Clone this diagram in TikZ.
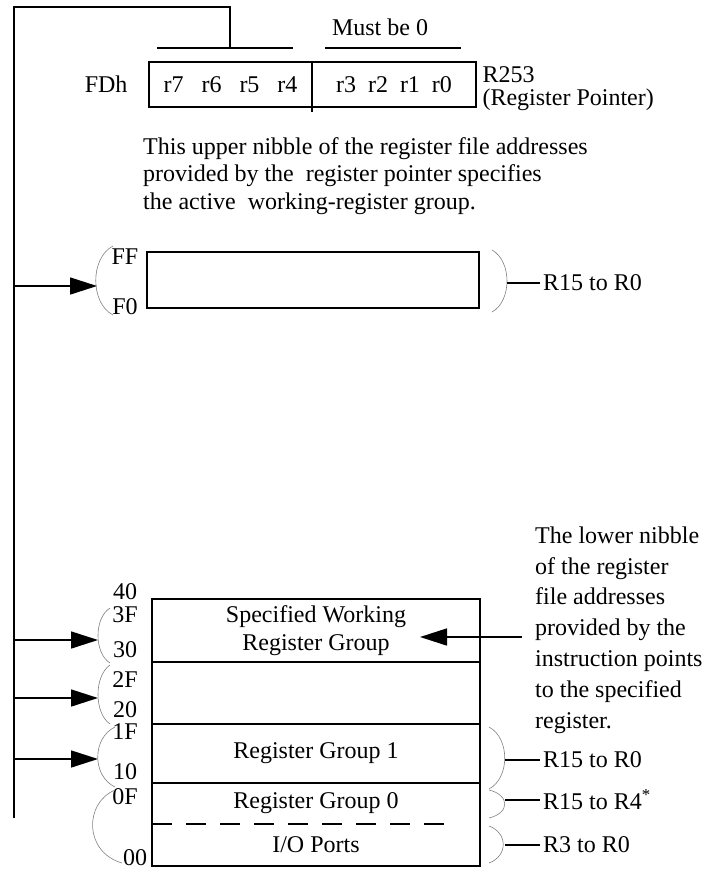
\documentclass[tikz,border=0pt]{standalone}
\usepackage{fontspec}
\setmainfont{Liberation Serif}
\usetikzlibrary{arrows.meta}
\usetikzlibrary{positioning}
\tikzset{memrow/.style = {line width=1.6pt, inner sep=0, outer sep=0, minimum width=328pt, align=center}}
\tikzset{regbox/.style = {memrow, draw}}
\tikzset{wire/.style = {line width=1.6pt}}
\tikzset{paren/.style = {gray, line width=0.6pt}}
\tikzset{ptr/.style = {-{Triangle[length=27pt,width=17pt]}, line width=1.6pt}}
\tikzset{addr/.style = {inner sep=0}}
\tikzset{tag/.style = {anchor=west, inner sep=3pt}}

\begin{document}
\begin{tikzpicture}[x=1pt, y=-1pt, font=\fontsize{24pt}{27.5pt}\selectfont]
    \useasboundingbox (0,0) rectangle (711,871);
    % register pointer R253
    \node[regbox, minimum width=163pt, minimum height=45pt] (hi) at (230.5,84.5) {r7\hspace{.5em} r6\hspace{.5em} r5\hspace{.5em} r4};
    \node[regbox, minimum width=164pt, minimum height=45pt, right=0pt of hi] (lo) {r3\hspace{.25em} r2\hspace{.25em} r1\hspace{.25em} r0};
    \coordinate (cut) at (312,112);
    \draw[wire] (hi.north east) -- (cut);
    \node[left=18pt of hi] (fdh) {FDh};
    \node[anchor=west] (rnum) at (479,75) {R253};
    \node[anchor=west] (rptr) at (479,100) {(Register Pointer)};
    \node (must) at (380,27) {Must be 0};
    \coordinate (hl) at (157,48); \coordinate (hr) at (293,48);
    \coordinate (ll) at (325,48); \coordinate (lr) at (461,48);
    \draw[wire] (hl) -- (hr);
    \draw[wire] (ll) -- (lr);
    \coordinate (spinebot) at (14,818);
    \coordinate (corner) at (14,7);
    \coordinate (hitap) at (230,48);
    \draw[wire] (spinebot) -- (corner) -| (hitap);
    \node[anchor=west, align=left, inner sep=0] (upper) at (143,176) {This upper nibble of the register file addresses\\provided by the\ \ register pointer specifies\\the active\ \ working-register group.};
    % working register group F0-FF
    \node[regbox, minimum width=332pt, minimum height=56pt] (ffbox) at (313,280) {};
    \node[addr] (aFF) at (125,257) {FF};
    \node[addr] (aF0) at (125,307) {F0};
    \draw[paren] (113,246) .. controls (90,258) and (90,303) .. (113,315);
    \coordinate (sff) at (14,286); \coordinate (pff) at (97,286);
    \draw[ptr] (sff) -- (pff);
    \draw[paren] (492,250) .. controls (512,261) and (512,301) .. (492,312);
    \coordinate (qff) at (507,283);
    \node[tag] (rff) at (540,283) {R15 to R0};
    \draw[wire] (qff) -- (rff.west);
    % register file 00-3F
    \node[regbox, minimum height=63pt] (g3) at (316,630.5) {Specified Working\\Register Group};
    \node[regbox, minimum height=62pt, below=0pt of g3] (g2) {};
    \node[regbox, minimum height=59pt, below=0pt of g2] (g1) {Register Group 1};
    \node[memrow, minimum height=41pt, below=0pt of g1] (g0) {Register Group 0};
    \node[memrow, minimum height=42pt, below=0pt of g0] (io) {I/O Ports};
    \draw[wire] (g0.north west) rectangle (io.south east);
    \coordinate (dashend) at (457,824);
    \draw[wire, dash pattern=on 20pt off 14pt] (io.north west) -- (dashend |- io.north);
    \foreach \n/\y in {40/592, 3F/615, 30/650, 2F/680, 20/710, 1F/732, 10/772, 0F/797}
        \node[addr] (a\n) at (125,\y) {\n};
    \node[addr] (a00) at (135,858) {00};
    \draw[paren] (110,608) .. controls (94,618) and (94,653) .. (110,663);
    \draw[paren] (110,665) .. controls (94,676) and (94,713) .. (110,724);
    \draw[paren] (115,727) .. controls (92,738) and (92,776) .. (115,787);
    \draw[paren] (115,790) .. controls (84,803) and (84,852) .. (122,863);
    \foreach \n/\y in {p3/640, p2/698, p1/759} {
        \coordinate (s\n) at (14,\y);
        \coordinate (\n) at (98,\y);
        \draw[ptr] (s\n) -- (\n);
    }
    \draw[paren] (489,727) .. controls (510,738) and (510,778) .. (489,789);
    \draw[paren] (489,790) .. controls (510,795) and (510,813) .. (489,818);
    \draw[paren] (489,826) .. controls (508,833) and (508,856) .. (489,863);
    \foreach \n/\y/\t in {r1/760/R15 to R0, r0/800/R15 to R4\textsuperscript{*}, rio/845/R3 to R0} {
        \coordinate (q\n) at (505,\y);
        \node[tag] (\n) at (540,\y) {\t};
        \draw[wire] (q\n) -- (\n.west);
    }
    % lower nibble note
    \node[anchor=west, align=left, inner sep=0, font=\fontsize{24pt}{30.8pt}\selectfont] (lower) at (535,630) {The lower nibble\\of the register\\file addresses\\provided by the\\instruction points\\to the specified\\register.};
    \coordinate (nib) at (522,637); \coordinate (sel) at (420,637);
    \draw[ptr] (nib) -- (sel);
\end{tikzpicture}
\end{document}
